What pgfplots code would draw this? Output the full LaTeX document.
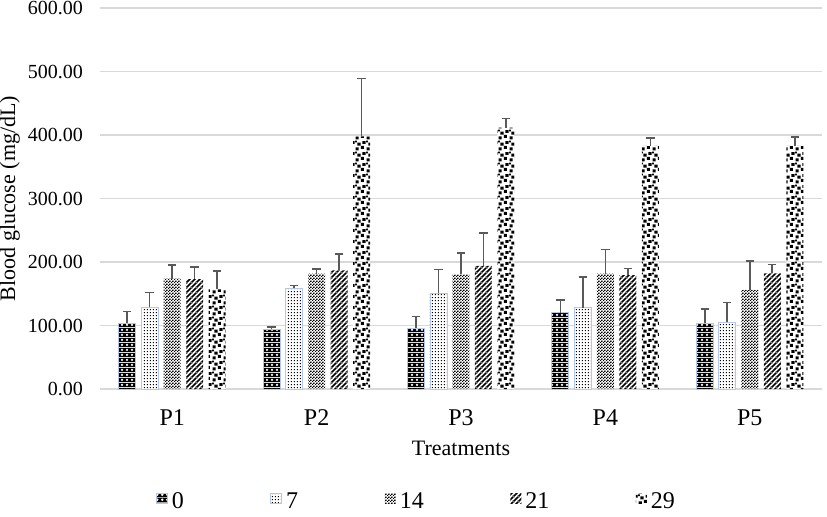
\documentclass[border=0pt]{standalone}
\usepackage{fontspec}
\setmainfont{Liberation Serif}
\usepackage{pgfplots}
\pgfplotsset{compat=1.18}
\usetikzlibrary{patterns}
\definecolor{errgray}{RGB}{89,89,89}
\definecolor{gridgray}{RGB}{217,217,217}
\definecolor{axgray}{RGB}{191,191,191}
\definecolor{edgeblue}{RGB}{180,199,231}

% pattern for day 0: dark with white diamonds
\pgfdeclarepatterninherentlycolored{p0}{\pgfpointorigin}{\pgfpoint{2.5pt}{2.5pt}}{\pgfpoint{2.5pt}{2.5pt}}{%
  \pgfsetfillcolor{black}\pgfpathrectangle{\pgfpointorigin}{\pgfpoint{2.5pt}{2.5pt}}\pgfusepath{fill}%
  \pgfsetfillcolor{white}%
  \pgfpathmoveto{\pgfpoint{1.25pt}{0.5pt}}\pgfpathlineto{\pgfpoint{2.0pt}{1.25pt}}%
  \pgfpathlineto{\pgfpoint{1.25pt}{2.0pt}}\pgfpathlineto{\pgfpoint{0.5pt}{1.25pt}}\pgfpathclose
  \pgfusepath{fill}}
% day 7: small dots
\pgfdeclarepatterninherentlycolored{p7}{\pgfpointorigin}{\pgfpoint{1.6pt}{1.6pt}}{\pgfpoint{1.6pt}{1.6pt}}{%
  \pgfsetfillcolor{white}\pgfpathrectangle{\pgfpointorigin}{\pgfpoint{1.6pt}{1.6pt}}\pgfusepath{fill}%
  \pgfsetfillcolor{black}\pgfpathrectangle{\pgfpoint{0.5pt}{0.5pt}}{\pgfpoint{0.6pt}{0.6pt}}\pgfusepath{fill}}
% day 14: small checker board
\pgfdeclarepatterninherentlycolored{p14}{\pgfpointorigin}{\pgfpoint{1.5pt}{1.5pt}}{\pgfpoint{1.5pt}{1.5pt}}{%
  \pgfsetfillcolor{white}\pgfpathrectangle{\pgfpointorigin}{\pgfpoint{1.5pt}{1.5pt}}\pgfusepath{fill}%
  \pgfsetfillcolor{black}\pgfpathrectangle{\pgfpointorigin}{\pgfpoint{0.75pt}{0.75pt}}\pgfusepath{fill}%
  \pgfpathrectangle{\pgfpoint{0.75pt}{0.75pt}}{\pgfpoint{0.75pt}{0.75pt}}\pgfusepath{fill}}
% day 21: wide upward diagonal
\pgfdeclarepatterninherentlycolored{p21}{\pgfpointorigin}{\pgfpoint{2.6pt}{2.6pt}}{\pgfpoint{2.6pt}{2.6pt}}{%
  \pgfsetfillcolor{white}\pgfpathrectangle{\pgfpointorigin}{\pgfpoint{2.6pt}{2.6pt}}\pgfusepath{fill}%
  \pgfsetfillcolor{black}%
  \pgfpathmoveto{\pgfpoint{0pt}{0pt}}\pgfpathlineto{\pgfpoint{0.65pt}{0pt}}\pgfpathlineto{\pgfpoint{2.6pt}{1.95pt}}%
  \pgfpathlineto{\pgfpoint{2.6pt}{2.6pt}}\pgfpathlineto{\pgfpoint{1.95pt}{2.6pt}}\pgfpathlineto{\pgfpoint{0pt}{0.65pt}}\pgfpathclose
  \pgfpathmoveto{\pgfpoint{1.95pt}{0pt}}\pgfpathlineto{\pgfpoint{2.6pt}{0pt}}\pgfpathlineto{\pgfpoint{2.6pt}{0.65pt}}\pgfpathclose
  \pgfpathmoveto{\pgfpoint{0pt}{1.95pt}}\pgfpathlineto{\pgfpoint{0pt}{2.6pt}}\pgfpathlineto{\pgfpoint{0.65pt}{2.6pt}}\pgfpathclose
  \pgfusepath{fill}}
% day 29: large confetti
\pgfdeclarepatterninherentlycolored{p29}{\pgfpointorigin}{\pgfpoint{5.6pt}{5.6pt}}{\pgfpoint{5.6pt}{5.6pt}}{%
  \pgfsetfillcolor{white}\pgfpathrectangle{\pgfpointorigin}{\pgfpoint{5.6pt}{5.6pt}}\pgfusepath{fill}%
  \pgfsetfillcolor{black}%
  \pgfpathrectangle{\pgfpoint{0.3pt}{0.3pt}}{\pgfpoint{1.7pt}{1.6pt}}%
  \pgfpathrectangle{\pgfpoint{3.1pt}{1.1pt}}{\pgfpoint{1.7pt}{1.6pt}}%
  \pgfpathrectangle{\pgfpoint{1.3pt}{2.9pt}}{\pgfpoint{1.7pt}{1.6pt}}%
  \pgfpathrectangle{\pgfpoint{4.0pt}{3.8pt}}{\pgfpoint{1.5pt}{1.5pt}}%
  \pgfpathrectangle{\pgfpoint{0.0pt}{4.6pt}}{\pgfpoint{1.0pt}{1.0pt}}%
  \pgfusepath{fill}}

\pgfplotstableread{
x y e
0 104   18
1 94    4
2 95.5  18.5
3 120   20
4 103.4 22.6
}\dzero
\pgfplotstableread{
x y e
0 129   23
1 158.6 4.4
2 150.7 37.8
3 128   48
4 105   31
}\dseven
\pgfplotstableread{
x y e
0 174   21
1 181.6 7.4
2 180.6 33.4
3 181.6 38.4
4 156   45.6
}\dfourteen
\pgfplotstableread{
x y e
0 173   19
1 187   26
2 194   52
3 179.5 10.5
4 182   14
}\dtwentyone
\pgfplotstableread{
x y e
0 157   29
1 398   91
2 411.5 14.5
3 383   12
4 382.7 14.3
}\dtwentynine

\begin{document}
\begin{tikzpicture}
\useasboundingbox (-50pt,-63.5pt) rectangle (363.5pt,194.5pt);
\begin{axis}[
  at={(0,0)}, anchor=south west,
  scale only axis, width=361pt, height=190.5pt,
  ybar=2.75pt, bar width=8.5pt,
  xmin=-0.5, xmax=4.5, ymin=0, ymax=600,
  xtick={0,1,2,3,4}, xticklabels={P1,P2,P3,P4,P5},
  ytick={0,100,...,600},
  /pgf/number format/fixed, /pgf/number format/fixed zerofill,
  /pgf/number format/precision=2, /pgf/number format/assume math mode=true,
  xticklabel style={font=\fontsize{12}{14}\selectfont, text=black, yshift=-2.5pt},
  yticklabel style={font=\fontsize{10}{12}\selectfont, text=black, xshift=-5pt},
  axis line style={draw=none},
  tick style={draw=none},
  ymajorgrids, major grid style={gridgray, line width=0.8pt},
  extra y ticks={0}, extra y tick labels={},
  extra y tick style={grid style={axgray, line width=0.9pt}},
  xlabel={Treatments}, ylabel={Blood glucose (mg/dL)},
  label style={font=\fontsize{11}{13}\selectfont},
  xlabel style={at={(axis description cs:0.5,-0.155)}, anchor=center},
  ylabel style={at={(axis description cs:-0.125,0.5)}, anchor=center},
  legend columns=5,
  legend image code/.code={\path[#1] (0pt,-0.5pt) rectangle (5.5pt,4.5pt);},
  legend style={draw=none, fill=none, inner sep=0pt,
    font=\fontsize{12}{14}\selectfont,
    at={(axis description cs:0.077,-0.297)}, anchor=west,
    /tikz/every even column/.append style={column sep=41.3pt}},
  error bars/y dir=plus, error bars/y explicit,
  error bars/error bar style={errgray, line width=0.8pt},
  error bars/error mark options={errgray, rotate=90, mark size=2.1pt, line width=0.8pt},
]
\addplot[pattern=p0, draw=edgeblue, line width=0.4pt] table[x=x, y=y, y error=e] {\dzero};
\addlegendentry{0}
\addplot[pattern=p7, draw=edgeblue, line width=0.4pt] table[x=x, y=y, y error=e] {\dseven};
\addlegendentry{7}
\addplot[pattern=p14, draw=none] table[x=x, y=y, y error=e] {\dfourteen};
\addlegendentry{14}
\addplot[pattern=p21, draw=none] table[x=x, y=y, y error=e] {\dtwentyone};
\addlegendentry{21}
\addplot[pattern=p29, draw=none] table[x=x, y=y, y error=e] {\dtwentynine};
\addlegendentry{29}
\end{axis}
\end{tikzpicture}
\end{document}
